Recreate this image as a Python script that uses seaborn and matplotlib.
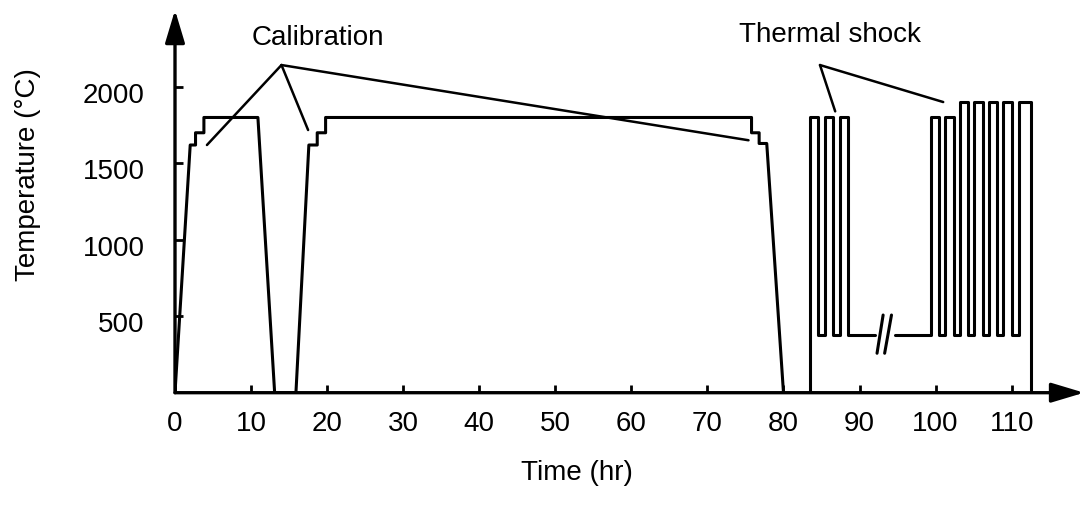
import numpy as np
import pandas as pd
import matplotlib
matplotlib.use('Agg')
import matplotlib.pyplot as plt
import matplotlib.transforms as mtransforms
import seaborn as sns

# Calibration runs: corner points of the temperature profile (hr, C)
cal_time = [0, 2.0, 2.7, 2.7, 3.8, 3.8, 10.9, 13.1, 15.9, 17.6, 18.7, 18.7, 19.8, 19.8,
            75.8, 75.8, 76.8, 76.8, 77.8, 80.0]
cal_temp = [0, 1620, 1620, 1700, 1700, 1800, 1800, 0, 0, 1620, 1620, 1700, 1700, 1800,
            1800, 1700, 1700, 1630, 1630, 0]

# Thermal shock cycles: heat-up time, cool-down time, peak temperature
shock_up = [83.5, 85.5, 87.4, 99.4, 101.3, 103.2, 105.1, 107.0, 108.9, 110.9]
shock_down = [84.6, 86.5, 88.5, 100.5, 102.4, 104.3, 106.2, 108.1, 110.0, 112.5]
shock_peak = [1800, 1800, 1800, 1800, 1800, 1900, 1900, 1900, 1900, 1900]
shock_low = 380

# Time axis break in the hold between the two shock groups
break_start = 92.0
break_end = 94.7
break_x = [(92.3, 93.1), (93.3, 94.2)]
break_y = (258, 508)

# Annotations: label, text position, leader tip, leader targets
cal_label = 'Calibration'
cal_text = (18.8, 2320)
cal_tip = (14.0, 2143)
cal_targets = [(4.2, 1620), (17.5, 1718), (75.4, 1651)]

shock_label = 'Thermal shock'
shock_text = (86.1, 2340)
shock_tip = (84.8, 2143)
shock_targets = [(86.8, 1840), (101.0, 1901)]

x_ticks = [0, 10, 20, 30, 40, 50, 60, 70, 80, 90, 100, 110]
y_ticks = [500, 1000, 1500, 2000]

# Build the square-wave shock profile, split at the axis break
seg_a_t, seg_a_y = [shock_up[0]], [0]
seg_b_t, seg_b_y = [], []
cur_t, cur_y = seg_a_t, seg_a_y
for i in range(len(shock_up)):
    cur_t += [shock_up[i], shock_down[i]]
    cur_y += [shock_peak[i], shock_peak[i]]
    if i < len(shock_up) - 1:
        cur_t.append(shock_down[i])
        cur_y.append(shock_low)
        if shock_down[i] < break_start < shock_up[i + 1]:
            cur_t.append(break_start)
            cur_y.append(shock_low)
            cur_t, cur_y = seg_b_t, seg_b_y
            cur_t.append(break_end)
            cur_y.append(shock_low)
        cur_t.append(shock_up[i + 1])
        cur_y.append(shock_low)
cur_t.append(shock_down[-1])
cur_y.append(0)

df = pd.concat([
    pd.DataFrame({'time': cal_time, 'temp': cal_temp, 'seg': 'cal'}),
    pd.DataFrame({'time': seg_a_t, 'temp': seg_a_y, 'seg': 'shock_a'}),
    pd.DataFrame({'time': seg_b_t, 'temp': seg_b_y, 'seg': 'shock_b'}),
], ignore_index=True)

sns.set_theme(style='white', rc={'text.color': 'black', 'axes.labelcolor': 'black',
                                 'xtick.color': 'black', 'ytick.color': 'black'})
plt.rcParams['font.family'] = ['Liberation Sans', 'DejaVu Sans']
fs = 20

fig = plt.figure(figsize=(10.85, 5.09), dpi=100)
ax = fig.add_axes([175 / 1085, (509 - 392.7) / 509, 910 / 1085, 382.7 / 509])

sns.lineplot(data=df, x='time', y='temp', units='seg', estimator=None, sort=False,
             color='black', lw=2.2, ax=ax)

# break marks
for bx in break_x:
    ax.plot(bx, break_y, color='black', lw=2.2)

# leader lines
for tx, ty in cal_targets:
    ax.plot([cal_tip[0], tx], [cal_tip[1], ty], color='black', lw=1.8)
for tx, ty in shock_targets:
    ax.plot([shock_tip[0], tx], [shock_tip[1], ty], color='black', lw=1.8)
ax.text(*cal_text, cal_label, ha='center', va='center', fontsize=fs)
ax.text(*shock_text, shock_label, ha='center', va='center', fontsize=fs)

ax.set_xlim(0, 910 / 7.606)
ax.set_ylim(0, 382.7 / 0.1529)
for s in ax.spines.values():
    s.set_visible(False)

# axes drawn as arrows
arrow = dict(arrowstyle='-|>,head_length=2.0,head_width=0.6', mutation_scale=10,
             color='black', lw=2.4, shrinkA=0, shrinkB=0)
ax.annotate('', xy=(0.999, 0), xytext=(0, 0), xycoords='axes fraction',
            textcoords='axes fraction', arrowprops=arrow, annotation_clip=False)
ax.annotate('', xy=(0, 1), xytext=(0, 0), xycoords='axes fraction',
            textcoords='axes fraction', arrowprops=arrow, annotation_clip=False)

ax.set_xticks(x_ticks)
ax.set_yticks(y_ticks)
ax.tick_params(axis='x', direction='in', length=6, width=2, pad=13, labelsize=fs,
               bottom=True)
ax.tick_params(axis='y', direction='in', length=6, width=2, pad=22, labelsize=fs,
               left=True)
# y tick labels sit a little below their ticks in the original
shift = mtransforms.ScaledTranslation(0, -6 / 100, fig.dpi_scale_trans)
for lab in ax.get_yticklabels():
    lab.set_transform(lab.get_transform() + shift)

ax.set_xlabel('Time (hr)', fontsize=fs)
ax.set_ylabel('Temperature (°C)', fontsize=fs)
ax.xaxis.set_label_coords((577 - 175) / 910, -(460 - 392.7) / 382.7)
ax.yaxis.set_label_coords(-(175 - 41) / 910, (392.7 - 175) / 382.7)

fig.savefig('out.png', dpi=100)
